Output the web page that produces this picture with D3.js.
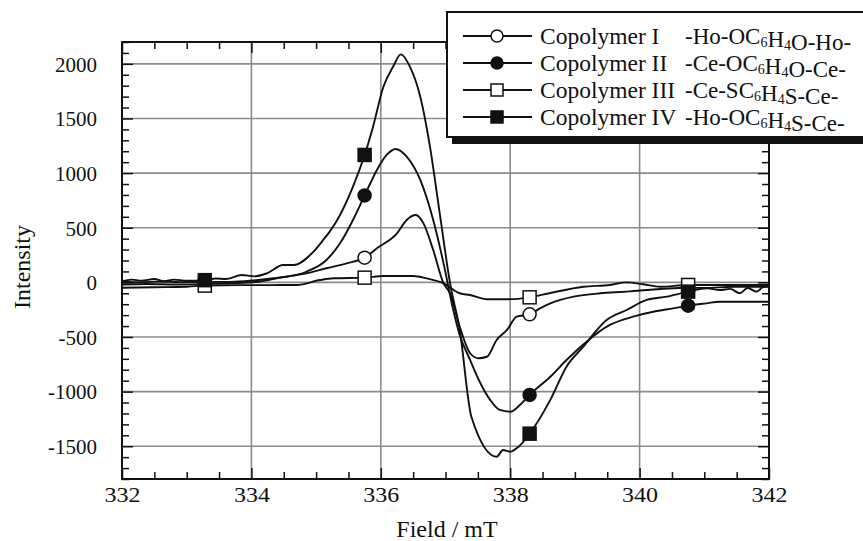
<!DOCTYPE html>
<html>
<head>
<meta charset="utf-8">
<script src="https://cdn.jsdelivr.net/npm/d3@7"></script>
<style>
html,body{margin:0;padding:0;background:#fff;overflow:hidden;}
svg{display:block;}
text{font-family:'Liberation Serif','Times New Roman',serif;fill:#111;}
</style>
</head>
<body>
<svg id="chart" width="863" height="541"></svg>
<script>
// ---------- data ----------
const seriesNames = ["Copolymer I", "Copolymer II", "Copolymer III", "Copolymer IV"];
const formulas = ["-Ho-OC6H4O-Ho-", "-Ce-OC6H4O-Ce-", "-Ce-SC6H4S-Ce-", "-Ho-OC6H4S-Ce-"];
const markerTypes = ["openCircle", "filledCircle", "openSquare", "filledSquare"];
const markerFields = [333.28, 335.75, 338.3, 340.75];

const xTicks = [332, 334, 336, 338, 340, 342];
const yTicks = [-1500, -1000, -500, 0, 500, 1000, 1500, 2000];

const fieldI = [332.0, 332.3, 332.6, 332.9, 333.28, 333.6, 333.9, 334.34, 334.85, 335.16, 335.47, 335.75, 335.94, 336.25, 336.40, 336.54, 336.66, 336.81, 336.97, 337.07, 337.22, 337.38, 337.51, 337.64, 337.79, 337.95, 338.10, 338.3, 338.46, 338.62, 338.98, 339.39, 339.80, 340.11, 340.52, 340.75, 341.0, 341.45, 342.0];
const intensityI = [5, 0, 8, 2, 5, 3, 10, 37, 83, 129, 174, 226, 312, 449, 571, 616, 540, 296, -9, -100, -406, -649, -695, -681, -528, -436, -314, -293, -238, -192, -131, -100, -85, -70, -54, -50, -52, -40, -40];

const fieldII = [332.0, 332.4, 332.8, 333.28, 333.7, 334.1, 334.39, 334.85, 335.16, 335.37, 335.57, 335.75, 335.94, 336.09, 336.23, 336.40, 336.61, 336.81, 336.97, 337.12, 337.22, 337.38, 337.53, 337.69, 337.84, 338.0, 338.15, 338.3, 338.62, 338.87, 339.18, 339.54, 339.90, 340.21, 340.52, 340.75, 341.03, 341.24, 342.0];
const intensityII = [-20, -15, -20, -15, -8, 5, 37, 97, 205, 357, 571, 795, 1029, 1166, 1221, 1150, 937, 571, 174, -253, -482, -710, -912, -1076, -1168, -1184, -1123, -1030, -864, -711, -543, -390, -314, -269, -238, -214, -192, -177, -177];

const fieldIII = [332.0, 332.5, 333.0, 333.28, 333.8, 334.3, 334.7, 335.06, 335.27, 335.75, 336.04, 336.50, 336.71, 336.97, 337.22, 337.38, 337.64, 337.95, 338.3, 338.62, 339.13, 339.54, 339.80, 340.06, 340.32, 340.75, 341.19, 342.0];
const intensityIII = [-50, -45, -40, -30, -25, -25, -24, 21, 37, 43, 58, 58, 37, -9, -100, -116, -155, -155, -137, -97, -40, -24, 0, -18, -40, -24, -24, -24];

const fieldIV = [332.0, 332.15, 332.3, 332.5, 332.65, 332.8, 333.0, 333.28, 333.45, 333.6, 333.85, 334.05, 334.24, 334.49, 334.65, 334.96, 335.11, 335.21, 335.37, 335.57, 335.75, 335.88, 336.04, 336.19, 336.31, 336.45, 336.61, 336.76, 336.91, 337.07, 337.22, 337.40, 337.79, 337.89, 338.0, 338.13, 338.3, 338.62, 338.87, 339.13, 339.49, 339.80, 340.11, 340.42, 340.75, 341.04, 341.24, 341.4, 341.55, 341.67, 341.81, 341.9, 342.0];
const intensityIV = [10, 25, 15, 30, 10, 25, 15, 20, 35, 30, 67, 55, 83, 159, 159, 281, 388, 464, 617, 876, 1166, 1425, 1791, 1974, 2087, 1974, 1699, 1242, 635, -6, -436, -1230, -1596, -1535, -1550, -1504, -1385, -1076, -772, -589, -345, -253, -161, -131, -85, -54, -70, -60, -100, -52, -85, -45, -33];

// ---------- build ----------
const series = [
  {name: seriesNames[0], formula: formulas[0], marker: markerTypes[0], f: fieldI, v: intensityI},
  {name: seriesNames[1], formula: formulas[1], marker: markerTypes[1], f: fieldII, v: intensityII},
  {name: seriesNames[2], formula: formulas[2], marker: markerTypes[2], f: fieldIII, v: intensityIII},
  {name: seriesNames[3], formula: formulas[3], marker: markerTypes[3], f: fieldIV, v: intensityIV}
].map(s => ({...s, pts: s.f.map((f, i) => ({f, v: s.v[i]}))}));

const svg = d3.select("#chart");
const L = 122, R = 769, T = 42, B = 479;
const x = d3.scaleLinear().domain([332, 342]).range([L, R]);
const y = d3.scaleLinear().domain([-1800, 2200]).range([B, T]);
const fmt = d => String(d);

// grid
const grid = svg.append("g");
grid.selectAll("line.gx").data(xTicks.slice(1, -1)).join("line")
  .attr("x1", d => x(d)).attr("x2", d => x(d)).attr("y1", T).attr("y2", B)
  .attr("stroke", "#8c8c8c").attr("stroke-width", 1.6);
grid.selectAll("line.gy").data(yTicks).join("line")
  .attr("x1", L).attr("x2", R).attr("y1", d => y(d)).attr("y2", d => y(d))
  .attr("stroke", "#8c8c8c").attr("stroke-width", 1.6);

// axes with inward ticks
const xMinor = d3.range(332, 342.01, 0.5).filter(v => Math.abs(v / 2 - Math.round(v / 2)) > 1e-6);
const yMinor = d3.range(-1800, 2200.1, 100).filter(v => v % 500 !== 0);

function addAxis(axisFn, scale, values, minorValues, transform, majorLen, minorLen) {
  const g = svg.append("g").attr("transform", transform);
  g.call(axisFn(scale).tickValues(minorValues).tickSize(-minorLen).tickFormat(""));
  g.select(".domain").remove();
  const g2 = svg.append("g").attr("transform", transform);
  g2.call(axisFn(scale).tickValues(values).tickSize(-majorLen).tickFormat(""));
  g2.select(".domain").remove();
  svg.selectAll(".tick line").attr("stroke", "#111").attr("stroke-width", 1.5);
}
addAxis(d3.axisBottom, x, xTicks, xMinor, `translate(0,${B})`, 11, 7);
addAxis(d3.axisTop, x, xTicks, xMinor, `translate(0,${T})`, 11, 7);
addAxis(d3.axisLeft, y, yTicks, yMinor, `translate(${L},0)`, 11, 7);
addAxis(d3.axisRight, y, yTicks, yMinor, `translate(${R},0)`, 11, 7);

// tick labels
const xl = svg.append("g").attr("transform", `translate(0,${B})`)
  .call(d3.axisBottom(x).tickValues(xTicks).tickSize(0).tickPadding(0).tickFormat(fmt));
xl.select(".domain").remove();
xl.selectAll("text").attr("y", 23).attr("dy", 0).style("font-size", "21px")
  .attr("textLength", 36).attr("lengthAdjust", "spacingAndGlyphs")
  .style("font-family", "'Liberation Serif','Times New Roman',serif").attr("fill", "#111");

const yl = svg.append("g").attr("transform", `translate(${L},0)`)
  .call(d3.axisLeft(y).tickValues(yTicks).tickSize(0).tickPadding(25).tickFormat(fmt));
yl.select(".domain").remove();
yl.selectAll("text").attr("dy", "0.35em").style("font-size", "21px")
  .style("font-family", "'Liberation Serif','Times New Roman',serif").attr("fill", "#111");

// axis titles
svg.append("text").attr("x", 447).attr("y", 537).attr("text-anchor", "middle")
  .style("font-size", "24px").text("Field / mT");
svg.append("text").attr("transform", "translate(30,267) rotate(-90)").attr("text-anchor", "middle")
  .style("font-size", "24px").text("Intensity");

// curves
const line = d3.line().x(d => x(d.f)).y(d => y(d.v)).curve(d3.curveMonotoneX);
const plot = svg.append("g");
plot.selectAll("path.curve").data(series).join("path")
  .attr("d", d => line(d.pts)).attr("fill", "none")
  .attr("stroke", "#111").attr("stroke-width", 1.9).attr("stroke-linejoin", "round");

function drawMarker(g, type, cx, cy, size) {
  if (type.endsWith("Circle")) {
    g.append("circle").attr("cx", cx).attr("cy", cy).attr("r", size / 2)
      .attr("fill", type.startsWith("filled") ? "#111" : "#fff")
      .attr("stroke", "#111").attr("stroke-width", 1.5);
  } else {
    g.append("rect").attr("x", cx - size / 2).attr("y", cy - size / 2)
      .attr("width", size).attr("height", size)
      .attr("fill", type.startsWith("filled") ? "#111" : "#fff")
      .attr("stroke", "#111").attr("stroke-width", 1.5);
  }
}
series.forEach(s => {
  s.pts.filter(p => markerFields.some(m => Math.abs(m - p.f) < 1e-6))
    .forEach(p => drawMarker(plot, s.marker, x(p.f), y(p.v), 13));
});

// frame
svg.append("rect").attr("x", L).attr("y", T).attr("width", R - L).attr("height", B - T)
  .attr("fill", "none").attr("stroke", "#111").attr("stroke-width", 2);

// legend
const lg = svg.append("g");
lg.append("rect").attr("x", 452).attr("y", 18).attr("width", 500).attr("height", 126).attr("fill", "#111");
lg.append("rect").attr("x", 447).attr("y", 12).attr("width", 500).attr("height", 125)
  .attr("fill", "#fff").attr("stroke", "#111").attr("stroke-width", 2);
series.forEach((s, i) => {
  const cy = 36 + i * 27;
  lg.append("line").attr("x1", 463).attr("x2", 532).attr("y1", cy).attr("y2", cy)
    .attr("stroke", "#111").attr("stroke-width", 1.9);
  drawMarker(lg, s.marker, 497, cy, 12);
  lg.append("text").attr("x", 540).attr("y", cy + 8).style("font-size", "23.5px").text(s.name);
  const t = lg.append("text").attr("x", 685).attr("y", cy + 8).style("font-size", "23px");
  s.formula.split(/(\d)/).filter(p => p.length).forEach(part => {
    if (/^\d$/.test(part)) {
      t.append("tspan").attr("dy", 3).style("font-size", "14px").text(part);
      t.append("tspan").attr("dy", -3).text("");
    } else {
      t.append("tspan").text(part);
    }
  });
});
</script>
</body>
</html>
